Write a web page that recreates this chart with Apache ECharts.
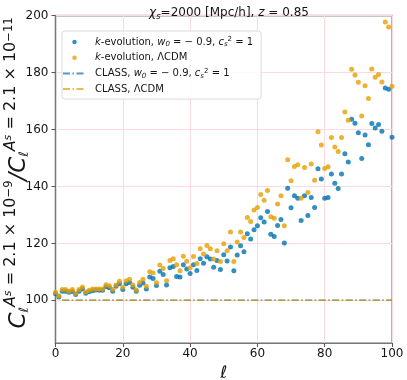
<!DOCTYPE html>
<html>
<head>
<meta charset="utf-8">
<script src="https://cdn.jsdelivr.net/npm/echarts@6/dist/echarts.min.js"></script>
<style>
  html, body { margin: 0; padding: 0; background: #fff; }
  #chart { width: 407px; height: 380px; }
</style>
</head>
<body>
<div id="chart"></div>
<script>
// multipoles l = 0..100
var ells = [];
for (var l = 0; l <= 100; l++) ells.push(l);

// k-evolution, w0 = -0.9, cs^2 = 1
var kevoW = [
  102.3, 101.2, 103.2, 103.2, 102.8, 103.1, 102.0, 103.2, 104.0, 102.5,
  103.0, 103.4, 103.6, 103.5, 103.5, 104.8, 104.4, 103.2, 104.9, 105.8,
  103.8, 105.8, 106.3, 104.6, 103.2, 105.3, 106.1, 104.0, 108.2, 107.7,
  105.2, 110.2, 109.1, 105.4, 111.4, 111.9, 108.4, 108.2, 112.5, 111.0,
  109.4, 112.5, 110.5, 114.6, 113.0, 115.3, 114.5, 111.6, 114.0, 110.8,
  116.0, 113.8, 118.7, 110.4, 115.9, 119.2, 117.1, 123.4, 121.5, 124.8,
  126.2, 129.0, 127.5, 131.2, 123.2, 122.4, 126.3, 128.4, 120.1, 139.4,
  132.5, 136.7, 135.9, 128.0, 136.7, 129.8, 136.1, 132.6, 146.2, 142.6,
  135.9, 136.1, 144.4, 141.1, 139.3, 144.4, 151.5, 148.6, 163.6, 162.2,
  158.9, 149.8, 158.1, 154.7, 162.1, 160.5, 161.8, 159.4, 174.6, 174.2,
  157.3
];

// k-evolution, LCDM
var kevoL = [
  102.8, 101.6, 103.8, 103.8, 103.2, 103.8, 102.4, 103.8, 104.7, 102.9,
  103.5, 104.0, 104.0, 104.0, 104.0, 105.5, 105.1, 103.8, 105.4, 106.7,
  104.6, 106.9, 107.4, 105.4, 103.6, 106.3, 107.4, 104.9, 110.0, 109.6,
  106.2, 112.4, 111.2, 106.9, 114.0, 114.6, 112.5, 110.4, 115.5, 113.7,
  111.4, 115.4, 112.9, 118.1, 116.3, 119.3, 118.1, 114.5, 117.4, 113.6,
  119.9, 117.4, 124.0, 113.6, 120.5, 124.0, 122.1, 129.1, 127.7, 131.7,
  132.6, 137.2, 135.2, 138.6, 129.4, 128.8, 133.8, 136.7, 126.2, 149.4,
  142.0, 147.0, 147.6, 135.9, 146.7, 137.9, 147.9, 142.2, 159.2, 154.6,
  146.3, 146.9, 157.2, 153.9, 152.3, 157.2, 166.2, 163.3, 181.2, 179.2,
  176.6, 164.8, 175.4, 170.9, 181.3, 178.4, 179.3, 176.7, 197.8, 196.0,
  175.2
];

// CLASS curves (flat)
var classEll = [2, 100];
var classW = [100, 100];
var classL = [100, 100];

var yTicks = [100, 120, 140, 160, 180, 200];

var blue = '#0072b2';
var orange = '#e69f00';
var font = 'DejaVu Sans';
var ink = '#151515';

function pairs(xs, ys) {
  return xs.map(function (x, i) { return [x, ys[i]]; });
}

var legendText = {
  'kevoW': '{p| }{i|k}-evolution, {i|w}{sub|0}{n| = − 0.9, }{i|c}{sub|s}{sup|2}{n| = 1}',
  'kevoL': '{p| }{i|k}-evolution, ΛCDM',
  'classW': '{p| }CLASS, {i|w}{sub|0}{n| = − 0.9, }{i|c}{sub|s}{sup|2}{n| = 1}',
  'classL': '{p| }CLASS, ΛCDM'
};

var dashDot = [7, 2.5, 1.5, 2.5];

var chart = echarts.init(document.getElementById('chart'));

chart.setOption({
  animation: false,
  title: {
    text: '{i|χ}{sub|s}{n|=2000 [Mpc/h], }{i|z}{n| = 0.85}',
    left: 224,
    top: 0,
    textAlign: 'center',
    textStyle: {
      fontFamily: font, fontSize: 12, fontWeight: 'normal', color: ink,
      rich: {
        n: {fontFamily: font, fontSize: 12, fontWeight: 'normal', color: ink, lineHeight: 16},
        i: {fontFamily: font, fontSize: 12, fontWeight: 'normal', fontStyle: 'italic', color: ink, lineHeight: 16},
        sub: {fontFamily: font, fontSize: 8.5, fontWeight: 'normal', fontStyle: 'italic', color: ink, verticalAlign: 'bottom', lineHeight: 9}
      }
    }
  },
  grid: {
    left: 55.5, right: 15, top: 15.7, bottom: 37,
    outerBoundsMode: 'none',
    containLabel: false,
    show: true, borderColor: '#b5b5b5', borderWidth: 2, backgroundColor: 'transparent'
  },
  legend: {
    orient: 'vertical',
    left: 62, top: 31,
    padding: [5, 8, 4, 0],
    itemGap: 3.7,
    itemWidth: 23, itemHeight: 4.5,
    backgroundColor: 'rgba(255,255,255,0.85)',
    borderColor: '#dadada', borderWidth: 1, borderRadius: 3,
    data: [
      {name: 'kevoW', icon: 'circle'},
      {name: 'kevoL', icon: 'circle'},
      {name: 'classW', itemStyle: {opacity: 0}},
      {name: 'classL', itemStyle: {opacity: 0}}
    ],
    formatter: function (name) { return legendText[name]; },
    textStyle: {
      fontFamily: font, fontSize: 10, color: ink, lineHeight: 12,
      rich: {
        p: {width: 4, fontSize: 10, lineHeight: 12},
        n: {fontFamily: font, fontSize: 10, color: ink, lineHeight: 12},
        i: {fontFamily: font, fontSize: 10, fontStyle: 'italic', color: ink, lineHeight: 12},
        sub: {fontFamily: font, fontSize: 7, fontStyle: 'italic', color: ink, verticalAlign: 'bottom', lineHeight: 7},
        sup: {fontFamily: font, fontSize: 7, color: ink, verticalAlign: 'top', lineHeight: 7}
      }
    }
  },
  xAxis: {
    type: 'value',
    min: 0, max: 100, interval: 20,
    name: 'ℓ',
    nameLocation: 'middle',
    nameGap: 15,
    nameTextStyle: {fontFamily: font, fontSize: 17, fontStyle: 'italic', color: ink},
    axisLine: {show: true, lineStyle: {color: '#777', width: 1}},
    axisTick: {show: true, length: 4, lineStyle: {color: '#555'}},
    axisLabel: {fontFamily: font, fontSize: 12, color: ink, margin: 5},
    splitLine: {show: true, lineStyle: {color: '#fcdadf', width: 1}}
  },
  yAxis: {
    type: 'value',
    min: 85, max: 200,
    axisLine: {show: true, lineStyle: {color: '#777', width: 1}},
    axisTick: {show: true, length: 4, lineStyle: {color: '#555'}, customValues: yTicks},
    axisLabel: {show: false},
    splitLine: {show: true, lineStyle: {color: '#fcdadf', width: 1}}
  },
  series: [
    {
      name: 'kevoW', type: 'scatter',
      data: pairs(ells, kevoW),
      symbolSize: 5,
      itemStyle: {color: blue},
      z: 3
    },
    {
      name: 'kevoL', type: 'scatter',
      data: pairs(ells, kevoL),
      symbolSize: 5,
      itemStyle: {color: orange},
      z: 4
    },
    {
      name: 'classW', type: 'line',
      data: pairs(classEll, classW),
      symbol: 'none',
      lineStyle: {color: blue, width: 1.5, type: dashDot, opacity: 0.7},
      itemStyle: {color: blue},
      z: 2
    },
    {
      name: 'classL', type: 'line',
      data: pairs(classEll, classL),
      symbol: 'none',
      lineStyle: {color: orange, width: 1.5, type: dashDot, opacity: 0.7},
      itemStyle: {color: orange},
      z: 2
    }
  ]
});

// y tick labels, placed through the grid's own scale
function tickPos(v) {
  var p = chart.convertToPixel({gridIndex: 0}, [0, v]);
  if (p && isFinite(p[0]) && isFinite(p[1])) return p;
  var gx = chart.convertToPixel({xAxisIndex: 0}, 0);
  var gy = chart.convertToPixel({yAxisIndex: 0}, v);
  return [gx, gy];
}

var graphics = yTicks.map(function (v) {
  var p = tickPos(v);
  return {
    type: 'text',
    x: p[0] - 7,
    y: p[1],
    z: 100,
    silent: true,
    style: {
      text: String(v), fill: ink,
      fontFamily: font, fontSize: 12,
      align: 'right', verticalAlign: 'middle'
    }
  };
});

// y title as rotated rich text
graphics.push({
  type: 'text',
  x: 17, y: 173,
  rotation: Math.PI / 2,
  z: 50,
  silent: true,
  style: {
    text: '{C|C}{l|ℓ}{A|A}{s|s}{n| = 2.1 × 10}{e|−9}{C|/C}{l|ℓ}{A|A}{s|s}{n| = 2.1 × 10}{e|−11}',
    align: 'center',
    verticalAlign: 'middle',
    fill: ink,
    font: '15px "DejaVu Sans"',
    rich: {
      C: {fontFamily: font, fontSize: 23, fontStyle: 'italic', fill: ink, lineHeight: 22, verticalAlign: 'bottom'},
      l: {fontFamily: font, fontSize: 13, fontStyle: 'italic', fill: ink, lineHeight: 6, verticalAlign: 'bottom'},
      A: {fontFamily: font, fontSize: 16, fontStyle: 'italic', fill: ink, lineHeight: 12, verticalAlign: 'top'},
      s: {fontFamily: font, fontSize: 11, fontStyle: 'italic', fill: ink, lineHeight: 28, verticalAlign: 'top'},
      n: {fontFamily: font, fontSize: 16, fill: ink, lineHeight: 12, verticalAlign: 'top'},
      e: {fontFamily: font, fontSize: 11.5, fill: ink, lineHeight: 4, verticalAlign: 'top'}
    }
  }
});
chart.setOption({graphic: graphics});
</script>
</body>
</html>
